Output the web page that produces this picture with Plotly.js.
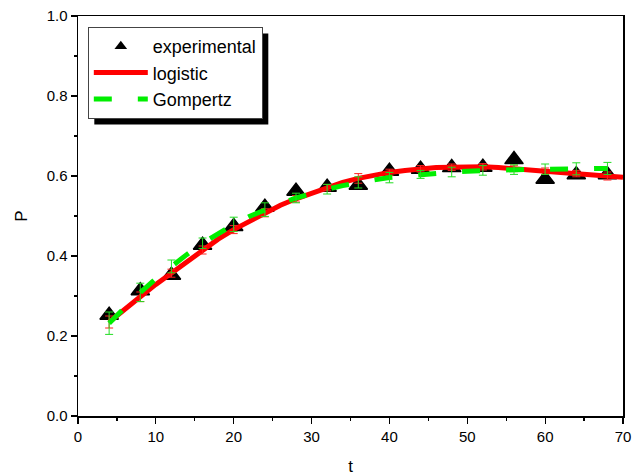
<!DOCTYPE html>
<html>
<head>
<meta charset="utf-8">
<script src="https://cdn.plot.ly/plotly-3.0.1.min.js"></script>
<style>html,body{margin:0;padding:0;background:#fff;}#chart{width:634px;height:476px;}</style>
</head>
<body>
<div id="chart"></div>
<script>
// experimental data
const tExp = [4, 8, 12, 16, 20, 24, 28, 32, 36, 40, 44, 48, 52, 56, 60, 64, 68];
const pExp = [0.252, 0.313, 0.352, 0.427, 0.474, 0.522, 0.562, 0.572, 0.577, 0.612, 0.617, 0.621, 0.622, 0.641, 0.592, 0.603, 0.603];

// logistic fit curve
const tLog = [4, 6, 8, 10, 12, 14, 16, 18, 20, 22, 24, 26, 28, 30, 32, 34, 36, 38, 40, 42, 44, 46, 48, 50, 52, 54, 56, 58, 60, 62, 64, 66, 68, 70];
const pLog = [0.235, 0.268, 0.298, 0.329, 0.357, 0.387, 0.415, 0.442, 0.466, 0.487, 0.508, 0.527, 0.543, 0.557, 0.571, 0.584, 0.594, 0.603, 0.609, 0.614, 0.618, 0.621, 0.622, 0.623, 0.623, 0.621, 0.619, 0.616, 0.612, 0.609, 0.606, 0.603, 0.600, 0.597];
// logistic error bars (at t = 4, 8, ... 68)
const errLog = [0.015, 0.012, 0.010, 0.010, 0.010, 0.010, 0.008, 0.008, 0.012, 0.008, 0.008, 0.008, 0.008, 0.008, 0.008, 0.008, 0.010];

// Gompertz fit curve
const tGom = [4, 6, 8, 10, 12, 14, 16, 18, 20, 22, 24, 26, 28, 30, 32, 34, 36, 38, 40, 42, 44, 46, 48, 50, 52, 54, 56, 58, 60, 62, 64, 66, 68];
const pGom = [0.232, 0.272, 0.309, 0.343, 0.374, 0.404, 0.432, 0.457, 0.479, 0.499, 0.516, 0.531, 0.545, 0.557, 0.567, 0.576, 0.584, 0.590, 0.596, 0.600, 0.604, 0.607, 0.610, 0.612, 0.614, 0.615, 0.616, 0.617, 0.617, 0.618, 0.618, 0.619, 0.619];
// Gompertz error bars (at t = 4, 8, ... 68)
const errGom = [0.028, 0.023, 0.016, 0.013, 0.018, 0.017, 0.012, 0.012, 0.014, 0.013, 0.010, 0.012, 0.012, 0.012, 0.013, 0.015, 0.015];

const seriesNames = ['experimental', 'logistic', 'Gompertz'];

function pick(ts, ps, at) {
  return at.map(t => ps[ts.indexOf(t)]);
}

const FONT = 'Arial, "Liberation Sans", sans-serif';

const traces = [
  {
    x: tExp, y: pExp, name: seriesNames[0], type: 'scatter', mode: 'markers', showlegend: false,
    marker: {symbol: 'triangle-up', size: 16, color: '#000', line: {color: '#000', width: 1.5}}
  },
  {
    // legend entry for the experimental points (smaller symbol, as in the original legend)
    x: [null], y: [null], name: seriesNames[0], type: 'scatter', mode: 'markers',
    marker: {symbol: 'triangle-up', size: 11, color: '#000'}
  },
  {
    x: tLog, y: pLog, name: seriesNames[1], type: 'scatter', mode: 'lines',
    line: {color: '#ff0000', width: 5}
  },
  {
    x: tExp, y: pick(tLog, pLog, tExp), type: 'scatter', mode: 'markers', showlegend: false, hoverinfo: 'skip',
    marker: {size: 1, opacity: 0},
    error_y: {type: 'data', array: errLog, visible: true, color: '#ff2020', thickness: 1, width: 4}
  },
  {
    x: tGom, y: pGom, name: seriesNames[2], type: 'scatter', mode: 'lines',
    line: {color: '#00ee00', width: 5, dash: '18px,26px'}
  },
  {
    x: tExp, y: pick(tGom, pGom, tExp), type: 'scatter', mode: 'markers', showlegend: false, hoverinfo: 'skip',
    marker: {size: 1, opacity: 0},
    error_y: {type: 'data', array: errGom, visible: true, color: '#22dd22', thickness: 1, width: 4}
  }
];

const axisCommon = {
  showgrid: false, zeroline: false, showline: true, linecolor: '#000', linewidth: 1.5,
  ticks: 'outside', ticklen: 6, tickwidth: 1.2, tickcolor: '#000',
  tickfont: {family: FONT, size: 15, color: '#000'}
};

const layout = {
  width: 634, height: 476,
  margin: {l: 78, r: 11, t: 16, b: 60},
  paper_bgcolor: '#fff', plot_bgcolor: '#fff',
  font: {family: FONT, color: '#000'},
  showlegend: true,
  xaxis: Object.assign({}, axisCommon, {
    range: [0, 70], dtick: 10, tick0: 0, mirror: true,
    minor: {dtick: 5, ticks: 'outside', ticklen: 3, tickcolor: '#000', tickwidth: 1.2},
    title: {text: 't', font: {family: FONT, size: 17}, standoff: 20}
  }),
  yaxis: Object.assign({}, axisCommon, {
    range: [0, 1], dtick: 0.2, tick0: 0, tickformat: '.1f', mirror: true,
    minor: {dtick: 0.1, ticks: 'outside', ticklen: 3, tickcolor: '#000', tickwidth: 1.2},
    title: {text: 'P', font: {family: FONT, size: 17}, standoff: 14}
  }),
  xaxis2: {
    overlaying: 'x', side: 'top', anchor: 'y', range: [0, 70], dtick: 10, tick0: 0,
    showgrid: false, zeroline: false, showline: false, showticklabels: false,
    ticks: 'inside', ticklen: 7, tickwidth: 1.2, tickcolor: '#000',
    minor: {dtick: 5, ticks: 'inside', ticklen: 4, tickcolor: '#000', tickwidth: 1.2}
  },
  yaxis2: {
    overlaying: 'y', side: 'right', anchor: 'x', range: [0, 1], dtick: 0.2, tick0: 0,
    showgrid: false, zeroline: false, showline: false, showticklabels: false,
    ticks: 'inside', ticklen: 7, tickwidth: 1.2, tickcolor: '#000',
    minor: {dtick: 0.1, ticks: 'inside', ticklen: 4, tickcolor: '#000', tickwidth: 1.2}
  },
  legend: {
    x: 0.018, y: 0.9725, xanchor: 'left', yanchor: 'top',
    bgcolor: '#fff', bordercolor: '#444', borderwidth: 1,
    font: {family: FONT, size: 18, color: '#000'},
    itemwidth: 54, tracegroupgap: 0
  },
  shapes: []
};

Plotly.newPlot('chart', traces, layout, {staticPlot: true, displayModeBar: false}).then(gd => {
  const bg = gd.querySelector('.legend .bg');
  if (!bg) return;
  const r = bg.getBoundingClientRect();
  const c = gd.getBoundingClientRect();
  const fl = gd._fullLayout;
  const px = v => (v - c.left - fl._size.l) / fl._size.w;
  const py = v => 1 - (v - c.top - fl._size.t) / fl._size.h;
  const off = 6;
  return Plotly.relayout(gd, {shapes: [{
    type: 'rect', xref: 'paper', yref: 'paper', layer: 'above',
    x0: px(r.left + off), x1: px(r.right + off), y0: py(r.bottom + off), y1: py(r.top + off),
    fillcolor: '#000', line: {width: 0}
  }]});
});
</script>
</body>
</html>
